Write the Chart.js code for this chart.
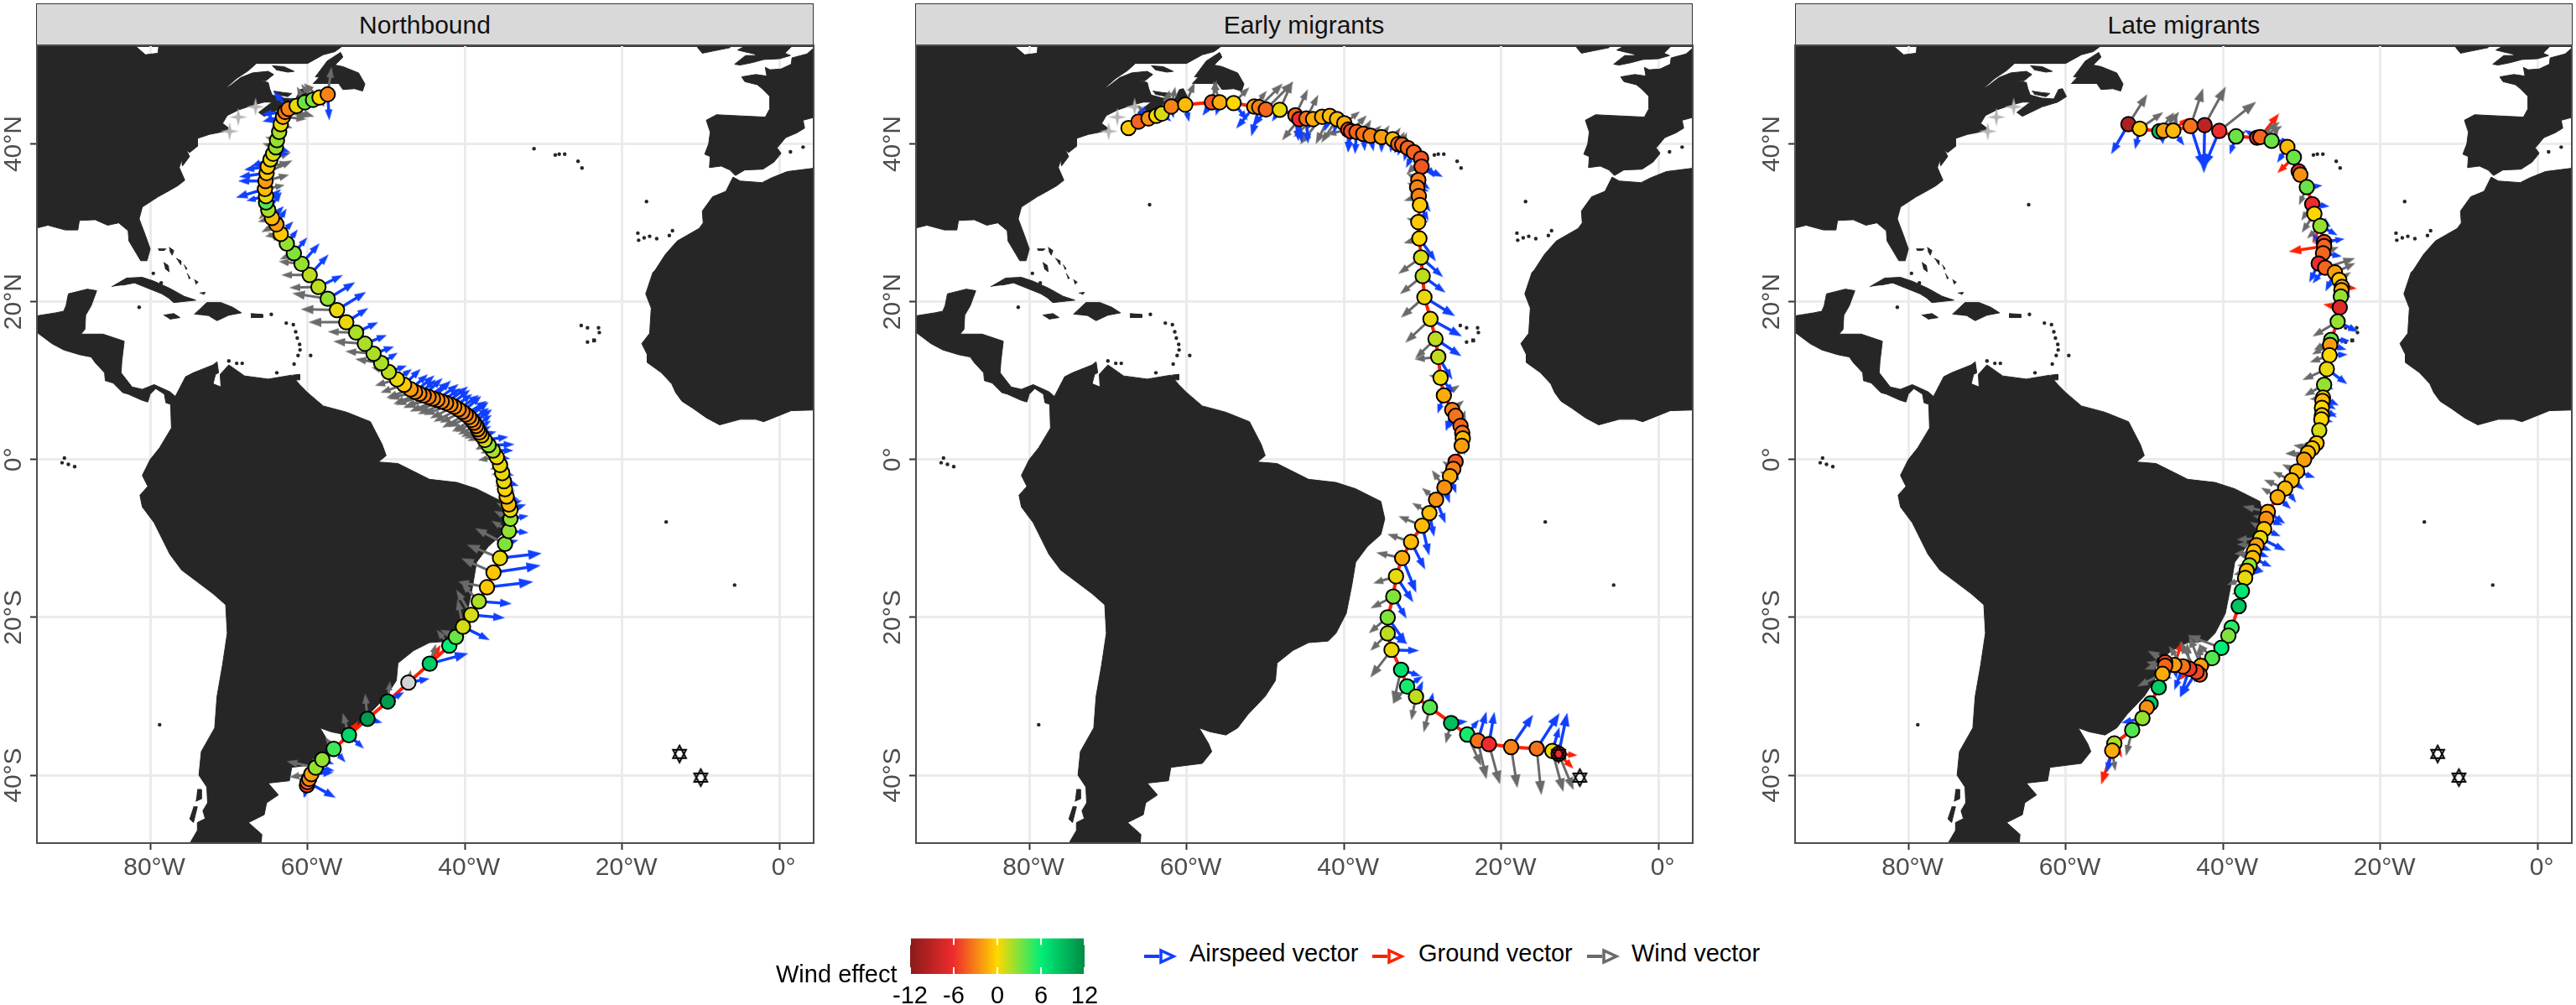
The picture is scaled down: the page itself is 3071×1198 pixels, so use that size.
<!DOCTYPE html>
<html>
<head>
<meta charset="utf-8">
<script src="https://cdn.jsdelivr.net/npm/chart.js@4"></script>
<style>
  html, body { margin: 0; background: #fff; width: 3071px; height: 1198px; overflow: hidden; font-family: "Liberation Sans", Arial, sans-serif; }
  canvas { position: absolute; }
  .strip { position: absolute; top: 4px; height: 49px; width: 925px; background: #d9d9d9; border: 1px solid #333; border-bottom-width: 2px; font-size: 30px; line-height: 49px; text-align: center; color: #111; }
  .lg { position: absolute; font-size: 29px; color: #000; white-space: nowrap; }
  svg { position: absolute; }
</style>
</head>
<body>
<div class="strip" style="left:43px">Northbound</div>
<div class="strip" style="left:1091px">Early migrants</div>
<div class="strip" style="left:2140px">Late migrants</div>
<canvas id="p1" width="973" height="1030" style="left:0px;top:50px"></canvas>
<canvas id="p2" width="973" height="1030" style="left:1048px;top:50px"></canvas>
<canvas id="p3" width="973" height="1030" style="left:2096px;top:50px"></canvas>
<canvas id="bar" width="262" height="88" style="left:1060px;top:1110px"></canvas>
<div class="lg" style="left:925px;top:1145px">Wind effect</div>
<svg style="left:1364px;top:1128px" width="40" height="24"><path d="M0 12H18" stroke="#1040ff" stroke-width="4"/><path d="M20 5L35 12L20 19Z" fill="#fff" stroke="#1040ff" stroke-width="3.5"/></svg>
<div class="lg" style="left:1418px;top:1120px">Airspeed vector</div>
<svg style="left:1636px;top:1128px" width="40" height="24"><path d="M0 12H18" stroke="#ff2000" stroke-width="4"/><path d="M20 5L35 12L20 19Z" fill="#fff" stroke="#ff2000" stroke-width="3.5"/></svg>
<div class="lg" style="left:1691px;top:1120px">Ground vector</div>
<svg style="left:1892px;top:1128px" width="40" height="24"><path d="M0 12H18" stroke="#6a6a6a" stroke-width="4"/><path d="M20 5L35 12L20 19Z" fill="#fff" stroke="#6a6a6a" stroke-width="3.5"/></svg>
<div class="lg" style="left:1945px;top:1120px">Wind vector</div>
<script>
// axis ticks
const lonTicks = [-80, -60, -40, -20, 0]
const latTicks = [-40, -20, 0, 20, 40]
const effectTicks = [-12, -6, 0, 6, 12]

// wind effect colour stops
const effectStops = ['#8b1a1a', '#ee2c2c', '#ffd700', '#00ee76', '#008b45']

// coast outlines, [lon, lat]
const americas = [[-100,53],[-82,53],[-82,52.5],[-80.6,51.3],[-79,51.5],[-78.9,52.5],[-78.5,53],[-55.7,53],[-55.7,52.3],[-56.5,51.7],[-58,51.3],[-60,50.2],[-64,50.2],[-66.5,50.2],[-67.5,49.3],[-69,48.3],[-70.5,47],[-69.8,47.4],[-68.5,48.4],[-67,49],[-65,49.2],[-64.3,48.8],[-65.3,48],[-66.3,48],[-65,47.8],[-64.8,47],[-64.5,46.2],[-63,45.8],[-61.5,45.7],[-60.9,46.9],[-60.4,47],[-59.9,46],[-61,45.3],[-63,44.7],[-65.5,43.5],[-66.2,44],[-64.5,45.3],[-65.5,45.3],[-67,44.9],[-68.8,44.3],[-70.2,43.6],[-70.8,42.6],[-70,42],[-70,41.7],[-71,41.5],[-72.5,41.2],[-74,40.7],[-74,39.7],[-75,38.9],[-75.4,39.3],[-75,38.4],[-75.9,37.2],[-76,38],[-76.3,37],[-75.6,35.4],[-76.5,34.7],[-77.9,33.9],[-79,33.3],[-81,32],[-81.4,30.5],[-80.6,28.4],[-80,26.7],[-80.4,25.2],[-81.2,25.2],[-81.8,26.2],[-82.7,27.7],[-82.8,29],[-84,30],[-85.4,29.7],[-87,30.4],[-89,30.3],[-89.2,29.1],[-90.8,29.1],[-93,29.7],[-95,29.2],[-100,29],[-100,20],[-94.5,18.2],[-92,18.6],[-91,18.8],[-90.7,19.5],[-90.4,21],[-88,21.6],[-86.8,21.4],[-87.5,19.5],[-88.2,18.3],[-88.3,16.5],[-88.8,15.9],[-86,15.9],[-83.3,15],[-83.6,12.5],[-83.7,11],[-82.3,9.2],[-81,8.9],[-79.5,9.5],[-77.5,8.6],[-76.8,8],[-75.5,10.5],[-74.5,11],[-72,12],[-71.5,12.4],[-71.3,11],[-71.7,10.8],[-72,9.6],[-71,9.2],[-71.1,10.8],[-70,12],[-68,10.6],[-65,10.2],[-62,10.7],[-61,9.5],[-60,8.5],[-58,6.8],[-55,6],[-52,4.8],[-50.5,1.9],[-50,0.5],[-51,-0.3],[-48.5,-0.5],[-44.5,-2.5],[-41,-2.9],[-38.5,-3.7],[-35.3,-5.3],[-34.8,-7.5],[-35.3,-9.5],[-37,-11],[-38.5,-13],[-39,-16],[-39.7,-19.5],[-41,-22],[-42,-23],[-44.5,-23.2],[-46.5,-24.2],[-48.5,-25.8],[-48.7,-28],[-50,-30],[-52.2,-32.3],[-53.5,-34],[-55,-34.9],[-57,-34.5],[-58.4,-34],[-57.2,-36],[-56.8,-37],[-58,-38.5],[-62,-39],[-62.3,-40.7],[-65,-41],[-63.7,-42.5],[-65.2,-43.5],[-65.5,-45],[-67.5,-46],[-65.8,-47.5],[-66,-50],[-76,-50],[-75,-48.7],[-74,-47],[-74,-46],[-73,-45.5],[-73.3,-44.5],[-72.7,-43.5],[-72.8,-41.5],[-73.8,-40],[-73.5,-37],[-71.8,-34],[-71.5,-30],[-70.8,-26],[-70.2,-22],[-70.4,-18.4],[-72,-17],[-76,-14],[-77.5,-12],[-79.5,-8],[-81,-6],[-81.3,-4.5],[-80.3,-3.4],[-81,-2],[-80,0],[-78.8,1.5],[-77.3,4],[-77.4,7],[-78,7.2],[-78.2,8.3],[-79.3,9],[-80,8.3],[-80.3,7.3],[-81,7.5],[-82.8,8.3],[-83.5,8.5],[-84.7,9.7],[-85.7,10],[-85.8,11],[-87,12.3],[-87.5,13],[-89,13.3],[-91,13.9],[-92.5,14.7],[-94.5,16.2],[-100,16.5]]
const africa = [[5,37],[1,36.5],[-1,35.7],[-2.2,35.1],[-5,35.3],[-5.9,35.8],[-6.8,34],[-8.5,33.3],[-9.8,31.5],[-9.7,30],[-10.2,29.3],[-13,27.7],[-14.5,26],[-15.8,24],[-16.1,23.7],[-17,21],[-16.3,19.2],[-16.5,16],[-17.5,14.7],[-16.8,13.3],[-16.8,12.3],[-15,11],[-13.7,9.6],[-13.2,8.5],[-12.4,7.4],[-11,6.5],[-9.3,5.3],[-7.6,4.4],[-5,5.1],[-3,5.1],[-2,4.8],[0,5.6],[1.5,6.2],[5,6.3]]
const europe = [[5,53],[4.6,52.5],[4.3,52.1],[3.5,51.4],[1.6,50.9],[1.5,50.1],[0.2,49.5],[-1.2,49.4],[-1.8,49.7],[-1.6,48.6],[-3,48.8],[-4.8,48.5],[-4.4,47.9],[-2.8,47.5],[-2.2,47],[-1.2,46],[-1.2,44.5],[-1.8,43.4],[-3.8,43.5],[-6,43.6],[-8,43.7],[-9.3,43],[-8.8,41.5],[-9,40],[-9.5,38.7],[-8.8,38.4],[-8.9,37],[-7.4,37.2],[-6.3,36.7],[-5.6,36],[-4.4,36.7],[-2.1,36.8],[-0.7,37.7],[0.2,38.8],[-0.3,39.5],[0.8,40.8],[2.2,41.4],[3.2,42],[3,43],[4.5,43.4],[5,43.3]]
const britain = [[-4.2,53],[-4.2,52.5],[-5.3,51.9],[-4.5,51.7],[-3.2,51.4],[-3,51.2],[-4.3,51.2],[-5.7,50.1],[-5,50],[-3.5,50.3],[-2,50.7],[0,50.8],[1.4,51.2],[0.7,51.5],[1.7,52.5],[1.7,53]]
const ireland = [[-10.2,53],[-10.4,52.2],[-9.8,51.5],[-8.3,51.8],[-6.3,52.2],[-6.1,53]]
const newfoundland = [[-59.3,47.6],[-58.5,48.5],[-59,48.5],[-57.5,50.5],[-55.8,51.6],[-55.5,51],[-56.5,50],[-55.5,49.8],[-53.5,49],[-52.7,47.6],[-53,46.7],[-54,47],[-55.5,46.9],[-56,47.6]]
const anticosti = [[-64.5,49.9],[-63,49.8],[-61.7,49.2],[-62.5,49.1],[-64,49.4]]
const princeEdward = [[-64.3,46.7],[-63,46.5],[-62,46.4],[-62.5,46],[-64,46.3]]
const cuba = [[-84.9,21.9],[-83,23],[-81,23.1],[-79.5,22.6],[-77.5,21.7],[-75.7,20.7],[-74.2,20.2],[-77,19.9],[-77.7,20.5],[-78.5,21],[-80.5,21.8],[-82,22.4],[-83.5,22.1]]
const hispaniola = [[-74.4,18.4],[-72.8,19.9],[-71,19.9],[-69.5,19.3],[-68.4,18.6],[-70,18.3],[-71.5,17.6],[-72.5,18.2]]
const jamaica = [[-78.3,18.3],[-77,18.5],[-76.2,18],[-77.5,17.8]]
const puertoRico = [[-67.2,18.5],[-65.7,18.4],[-65.7,18],[-67.2,18]]
const andros = [[-78.3,25],[-77.7,24.6],[-77.6,23.8],[-78.1,24.2]]
const abaco = [[-77.6,26.9],[-77,26.5],[-77.2,25.9],[-77.5,26.4]]
const grandBahama = [[-79,26.7],[-78,26.7],[-78.2,26.5],[-78.9,26.5]]
const eleuthera = [[-76.7,25.5],[-76.1,25.2],[-76.1,24.7],[-76.4,25.1]]
const catIsland = [[-75.7,24.7],[-75.3,24.2],[-75.5,24.1]]
const longIsland = [[-75.3,23.6],[-74.9,23],[-75.1,22.9]]
const acklins = [[-74.4,22.8],[-73.9,22.5],[-74.2,22.2]]
const inagua = [[-73.7,21.1],[-73,21.2],[-73.2,20.9]]
const trinidad = [[-61.9,10.7],[-61,10.8],[-61,10.1],[-61.9,10.1]]
const capeVerde = [[-23.8,15.3],[-23.4,15.3],[-23.4,14.9],[-23.8,14.9]]
const chiloe = [[-74,-41.8],[-73.5,-41.8],[-73.5,-43],[-74.2,-43.3]]
const chonos = [[-74.5,-44],[-74,-44],[-74.5,-46],[-75,-45.5]]
const landShapes = [americas, africa, europe, britain, ireland, newfoundland, anticosti, princeEdward, cuba, hispaniola, jamaica, puertoRico, andros, abaco, grandBahama, eleuthera, catIsland, longIsland, acklins, inagua, trinidad, capeVerde, chiloe, chonos]

// small islands shown as dots
const islandDots = [[-31.2,39.4],[-28.5,38.6],[-28,38.7],[-27.3,38.7],[-25.6,37.8],[-25.1,36.95],[-16.9,32.7],[-18,28.7],[-17.9,27.8],[-17.2,28.1],[-16.5,28.3],[-15.6,28],[-14,28.4],[-13.6,29],[-25.2,17],[-24.4,16.7],[-23,16.7],[-22.9,16.1],[-24.4,14.9],[-64.7,32.3],[-64.6,18.4],[-62.7,17.3],[-61.8,17.1],[-61.5,16.2],[-61.3,15.4],[-61,14.6],[-60.95,13.9],[-59.6,13.2],[-61.2,13.2],[-61.7,12.1],[-69,12.2],[-68.3,12.2],[-70,12.5],[-63.9,11],[-91.2,-0.4],[-90.4,-0.6],[-89.6,-0.9],[-90.9,0.2],[-14.4,-7.9],[-5.7,-15.9],[-78.8,-33.6],[3,39.6],[1.4,39],[-81.4,19.3],[-78.6,22.4],[-79.6,23.6]]

const coastStars = [[-66.6,44.7],[-68.8,43.4],[-69.9,41.6]]
const colonyStars = [[-12.7,-37.3],[-10,-40.3]]

// lon, lat, wind effect, airspeed dlon, dlat, wind dlon, dlat
const northRows = [
[-57.43,46.28,-3,0.2,-3.3,0.5,3.5],[-58.47,45.88,0,0.6,-1.2,-2,1.8],[-59.3,45.59,3,-0.5,-0.8,-1.5,2],[-60.34,45.27,3.5,-1,-0.4,-1,2],[-61.38,44.82,0.5,-1,1,0.5,1.5],[-62.42,44.45,-3,-1.9,2.2,3.3,-1],[-62.84,44.05,-3.5,-3,-0.3,3,-0.6],[-63.12,43.44,-1.5,-2.6,-0.6,3,-0.3],[-63.4,42.5,0.5,-1.7,1,1.5,-0.5],[-63.6,41.52,2,-1,0.2,-1,0.8],[-63.88,40.47,2.5,-0.7,-0.3,-1.5,0.4],[-64.02,39.57,2.5,1.8,-0.6,-1.7,0.5],[-64.37,38.76,1,2,0,-1,-0.2],[-64.71,38.03,0.5,-2.5,-0.9,2.6,0.9],[-65.06,37.13,-0.5,-3,-0.4,2.8,0.5],[-65.2,36.32,-0.5,-3.5,-0.5,3.3,1.6],[-65.34,35.3,-2,-3.5,0,3,0.8],[-65.41,34.29,-1,-3.7,-1.1,2.5,0.5],[-65.27,33.39,0.5,-2.5,-0.6,2,0.3],[-65.27,32.58,4,1.9,1.7,-0.9,-0.6],[-64.99,31.64,2,1.7,2.3,-1.2,-1.2],[-64.51,30.62,-1,1.5,1.5,-1.8,-0.5],[-63.95,29.81,-2,1.3,2,-1.9,-1],[-63.4,28.59,-0.5,1.6,1.6,-2,-0.3],[-62.63,27.37,2.5,1.4,1.8,-2.4,1.4],[-61.73,26.15,3,1.7,2,-1.8,-0.8],[-60.76,24.81,2.5,2.3,2.6,-2.9,0.3],[-59.72,23.39,1.5,2.4,2.6,-3.6,0],[-58.61,21.88,1.5,3.1,1.5,-3.7,-0.1],[-57.43,20.38,2.5,3.5,2.1,-4.5,0.7],[-56.25,18.95,0.5,3.7,2.3,-4.6,0.1],[-55.07,17.41,0.5,2.8,1.8,-4.8,0],[-53.82,16.1,2,2.8,1.3,-3.6,0.1],[-52.71,14.68,2,2.8,1.1,-4,0.3],[-51.6,13.42,2,2.6,0.9,-3.6,0.3],[-50.63,12.24,2,2.1,1.3,-3.3,0.5],[-49.66,11.1,1.5,2.3,0.8,-2.2,0.6],[-48.62,10.17,0.5,1.9,1.3,-2.8,-0.8],[-47.72,9.48,-0.5,2.1,2,-3,-1],
[-46.89,8.91,-2,2.2,1.9,-3.1,-1.1],[-46.33,8.58,-2.5,2.5,2.1,-3.4,-0.9],[-45.78,8.34,-2.5,2.1,1.8,-3.3,-1.3],[-45.22,8.13,-3,2.4,2.2,-3.6,-1.2],[-44.6,7.93,-3,2.6,1.9,-3.2,-1.4],[-44.05,7.73,-2.5,2.3,2.3,-3.7,-1.1],[-43.49,7.57,-2.5,2.7,2,-3.5,-1.5],[-42.94,7.36,-2.5,2.4,1.7,-3.3,-1.2],[-42.38,7.16,-3,2.8,2.1,-3.6,-1.4],[-41.83,6.95,-2.5,2.5,1.9,-3.4,-1.3],[-41.34,6.71,-2.5,2.3,1.6,-3.1,-1.5],[-40.79,6.38,-2.5,2.6,1.8,-3.2,-1.6],[-40.3,6.06,-3,2.4,2,-2.9,-1.4],[-39.88,5.73,-3,2.7,1.7,-3,-1.7],[-39.47,5.41,-2.5,2.5,1.9,-2.7,-1.3],[-39.12,5.04,-2.5,2.2,1.5,-2.5,-1.5],[-38.84,4.68,-2.5,2.3,1.7,-2.4,-1.2],[-38.57,4.27,-2.5,2,1.4,-2.3,-1.1],[-38.36,3.86,-2,1.7,1.1,-2.1,-1],[-38.15,3.46,-1.5,1.5,0.8,-1.9,-0.8],[-37.87,3.05,-1,1.9,0.5,-1.8,-0.7],[-37.46,2.48,1,3,0.4,-1,-1.3],[-36.97,1.83,2.5,3.3,0.1,-1.7,-0.5],[-36.42,1.14,2,2.6,0,-1.6,-0.3],[-35.93,0.32,0.5,1.7,-0.2,-2.4,-0.4],[-35.52,-0.69,0.5,1.2,-0.4,-1.3,-0.6],[-35.24,-1.71,0.5,1.5,-0.3,-1.4,-0.2],[-35.03,-2.73,0.5,1.9,-0.6,-1,0.4],[-34.89,-3.74,0,1.3,-0.3,-1.3,0.5],[-34.68,-4.68,-0.5,1.6,-0.4,-1.2,0.7],
[-34.4,-5.68,-1,1.7,0.5,-1.4,0.8],[-34.2,-6.37,0.5,2,0.7,-1.8,0.9],[-34.2,-7.51,2.5,2.3,0.4,-2.1,1],[-34.4,-9.06,2.5,2.5,-0.2,-2.2,1.3],[-34.89,-10.69,3,1.7,0.5,-3.8,2],[-35.52,-12.48,0.5,5.3,0.6,-4.2,1.7],[-36.35,-14.31,-0.5,6,0.9,-4.1,1.8],[-37.18,-16.18,-0.5,5.9,0.7,-3.7,0.7],[-38.22,-17.97,2,4.2,-0.3,-2.2,2.3],[-39.19,-19.67,1,4.3,-0.4,-1.9,3.2],[-40.23,-21.18,1,3.4,-1.7,-0.7,3.5],[-41.13,-22.48,3.5,1,-0.5,-2,0.9],[-41.97,-23.58,6,1.1,0.2,-1.6,2],[-44.46,-25.86,8,4.9,1.3,0.8,2.5],[-47.17,-28.26,null,2.7,0.5,0.3,1.6],[-49.8,-30.66,11,2.1,1.2,0.3,2.6],[-52.37,-32.85,11,1.9,-0.5,-0.3,3.2],[-54.73,-34.92,7.5,1.9,-1.7,-0.8,2.8],[-56.67,-36.67,4.5,1.5,-1.7,-1.1,1.5],[-58.12,-38.02,2.5,1.5,-0.6,-1.4,0],[-58.96,-39.03,2.5,2.4,-0.4,-3.7,0.8],[-59.51,-39.85,-2,2.8,0.2,-2.8,-0.4],[-59.79,-40.46,-3,-0.7,-2.4,0.8,1.2],[-60,-40.86,-4,3.6,-2,-0.6,0.7],[-60.07,-41.27,-5,-0.3,-1.6,0.5,0.8]]

const earlyRows = [
[-67.38,42.01,-0.5,0.3,-0.3,-1,0.3],[-66.11,42.83,-4,0.8,2,-0.8,-0.3],[-64.84,43.23,-2.5,1,-0.6,-1.4,1.7],[-63.85,43.56,0,0.5,-0.7,2,2.8],[-63.14,43.84,1,1.2,-1,1,3],[-61.94,44.74,-3,0.3,-1.5,0.5,2.5],[-60.17,44.98,-1,0.5,-2.2,1.2,2.8],[-56.78,45.27,-4.5,-1.2,-1.7,0.6,2.8],[-55.79,45.27,-1.5,-0.5,-1.7,-0.8,2.7],[-54.02,45.18,0,1.8,-2.2,2,2],[-51.4,44.74,-2,-2.3,-2.8,1.6,2],[-50.77,44.66,-3,-1,-3.7,3,3],[-49.92,44.37,-4,-1.4,-2,3.5,3.5],[-48.15,44.33,0.5,-1,-1.5,1.6,3.6],[-46.17,43.64,-4,0.4,-3.3,1.6,3.3],[-45.67,43.15,-6,0.3,-3,-2.2,-2.7],[-44.76,43.23,-3.5,0.2,-3.2,1.5,3],[-43.91,43.15,-1.5,-1,-1.5,-2.5,-2.3],[-42.77,43.44,-1.5,0.5,1,-2.8,-3.5],[-41.79,43.56,-1,-0.7,-2,-1.8,-3.6],[-40.87,43.15,-1,-0.4,-1.8,-2,-3],[-39.95,42.62,-1.5,0.5,-2,2,1.5],[-39.45,41.81,-5,0,-2.8,-2.8,-0.6],[-39.1,41.61,-5,-0.4,-2.7,2,2],[-38.39,41.52,-4,-0.2,-2.8,-1,-0.5],[-37.54,41.28,-3.5,0.2,-2.2,1,1.8],[-36.62,41.04,-3,0.4,-2,1.4,1.3],[-35.21,40.87,-2,0,-2,1,1.5],[-33.79,40.59,-1,-0.3,-1.7,1,1.5],[-33.09,39.98,-4,-0.5,-1.2,0.8,1.6],[-32.59,39.9,-4,-0.6,-1.4,0.6,1.6],[-31.88,39.49,-4,-0.5,-1.7,0.5,0.8],[-31.11,38.96,-4,-1,-2,0.4,0.6],[-30.19,38.15,-4.5,1.7,-2.4,-1.8,-2],[-30.12,37.13,-4.5,2.7,-1.3,-1.5,-0.6],[-30.54,35.42,-3,1.5,-1.2,-1.5,0.9],[-30.68,34.49,-3,1.5,-0.5,-1.3,0.6],[-30.47,33.39,-3,1.5,-2,-1.9,-0.6],[-30.33,32.25,-0.5,1.1,-2,-1.3,1.6],[-30.54,30.1,-0.5,1.3,0.1,-1.5,0.5],[-30.4,28.02,0,2.1,-2.9,-2,-0.6],[-30.19,25.62,1,2.8,-2.5,-2.9,-2.1],[-29.98,23.26,1.5,2.9,-2.1,-2.9,-2.3],[-29.76,20.58,0.5,3.9,-2.4,-3,-2.6],[-28.99,17.81,0.5,4,-2.2,-3.2,-3],[-28.35,15.29,1.5,3.3,-2.2,-2.6,-2.5],[-28,13.01,1.5,1.8,-2.9,-3,-0.3],[-27.71,10.37,0.5,1.7,-1.9,-1.5,0.3],[-27.29,8.13,-1.5,-0.8,-2.3,2,1.3],[-26.23,6.3,-3,-0.8,-2.7,1.5,1.2],[-25.8,5.53,-3.5,-0.9,-1.6,0.8,-1.3],[-25.17,4.27,-4,0.9,-2.9,0.6,2],[-24.95,3.38,-3.5,0.6,-1.5,-0.7,1],[-24.88,2.68,-1,0.3,-1.2,-0.5,0.6],[-25.02,1.75,-2,0.4,-1.2,-0.6,0.7],[-25.8,-0.28,-4.5,0.8,-0.4,-1,0.6],[-26.09,-1.18,-3,0.7,-1.5,-1.4,1],[-26.51,-2.11,-1.5,0.8,-2.2,-1.3,0.6],[-27.22,-3.54,-2.5,0.7,-2,-1.6,2.2],[-28.28,-5.08,-2.5,1.2,-3,-1.8,1.5],
[-29.13,-6.78,-1,0.6,-3,-2.2,1.3],[-30.05,-8.37,-1,0.9,-3.8,-3,1.2],[-31.46,-10.44,-1,1.8,-3.5,-3,1],[-32.59,-12.48,-1.5,1.8,-4.4,-3.3,0.7],[-33.37,-14.79,0.5,2.2,-3.3,-2.9,-0.9],[-33.72,-17.36,3,1.7,-2.8,-2.9,-1.5],[-34.43,-20,3,2.4,-3.4,-2.4,-2],[-34.43,-22.03,1.5,2.5,-1.3,-2.2,-2.2],[-33.94,-24.11,0.5,3.5,-0.1,-2.7,-3.5],[-32.73,-26.63,7,2.5,-0.8,-1,-4.3],[-31.96,-28.74,5.5,2,1.3,-1.8,-2.2],[-30.83,-30.04,1.5,0.9,2,-0.6,-3],[-29.06,-31.39,4,0.4,1.9,-0.8,-3.2],[-26.37,-33.38,9,2.1,0.2,-0.7,-2.6],[-24.32,-34.84,5.5,1.5,1.9,1.8,-4],[-22.97,-35.62,-3.5,1.1,3.7,1.1,-4.9],[-21.56,-36.06,-6,0.7,4.1,1.4,-5.1],[-18.74,-36.43,-3,2.8,4.1,0.8,-5.2],[-15.48,-36.63,-3.5,2.9,4.5,0.6,-5.9],[-13.5,-36.92,0.5,0.9,3,1.4,-5.2],[-12.7,-37.28,-6,1.1,5.2,1.9,-4.6]]

const lateRows = [
[-52.02,42.5,-10,-2.2,-3.8,2.4,3.8],[-50.58,41.93,-0.5,-0.6,-2.6,3,2.1],[-48.1,41.6,9,0.5,-1.6,1.9,2.4],[-47.55,41.69,-2,-0.1,-1.7,2,2.4],[-46.32,41.69,-1,1.4,-1.9,0.5,1.8],[-44.12,42.26,-3.5,1.7,-5.3,1.6,4.8],[-42.33,42.38,-9,-0.1,-6.1,2.7,4.9],[-40.47,41.65,-6,-1.9,-4.5,4.7,3.7],[-38.34,40.96,3.5,-0.8,-2.3,1.4,0.7],[-35.66,40.79,-6,-1.6,1,2.9,2],[-35.25,40.87,-4,-0.5,0.9,2.8,1.4],[-33.81,40.39,3.5,2.4,0,0.9,1.6],[-31.81,39.61,-1,-1.3,-2,-0.4,0.6],[-30.99,38.31,3.5,-0.5,-1,-0.4,0.5],[-30.37,36.52,-7,-0.2,1,-0.5,0.4],[-30.16,36.1,-2.5,0.5,1.2,-0.6,-0.5],[-29.34,34.53,3.5,2,0.2,-1,-2.3],[-28.65,32.37,-6,2.2,-0.3,-1.4,-2.1],[-28.38,31.15,0,2.1,-1.7,-1.6,-2.4],[-27.62,29.61,2.5,2.2,-1.2,-1.7,-1.6],[-27.14,27.57,-5,2.6,0.4,-1.5,0.2],[-27.14,27.05,-4,-1.5,1.5,-1.4,0.5],[-27.28,26.15,-4,2.4,-0.4,2,0.8],[-27.83,24.85,-6,-1.2,-2.4,1.2,0.8],[-27,24.32,-4,-1.6,-2,3.8,1.2],[-25.77,23.71,-2,-1.2,-2.4,2.6,1.2],[-25.22,22.77,-0.5,1.4,-2.3,1.5,1],[-24.87,21.88,-1.5,0.7,-1.2,0.5,0.8],[-24.94,21.47,-1.5,0.5,-1,0.6,0.8],[-25.01,20.66,2.5,0.4,-0.9,-0.5,0.6],[-25.15,19.28,-7,0.8,-0.5,-0.7,0.3],[-25.42,17.49,2.5,2.6,-1.3,-3.2,-1.9],[-26.25,15.17,3.5,2.4,-0.1,-2.2,-1.3],[-26.38,14.52,-2,2.1,-0.6,-2.3,-1.2],[-26.45,13.22,0,2.3,0.1,-2.5,-0.9],[-26.8,11.47,0.5,2.6,-1.9,-3.1,-1.4],[-27.14,9.48,2.5,1.2,-0.6,-2.5,-1.4],[-27.28,7.85,-0.5,2,-1,-1.7,-0.2],[-27.35,7.44,-1,1.7,-1.1,-1.2,0.2],[-27.42,6.55,0,1.9,-1.2,-1,0.4],[-27.42,5.61,-0.5,1.9,0.2,-1,0.3],[-27.49,5.08,0,1.5,-0.3,-0.8,0.4],[-27.76,3.7,1,0.9,-0.4,-0.9,0.3],[-28.1,2.07,-0.5,0.6,-0.2,-2.3,-0.5],[-28.65,1.42,-0.5,0.5,-0.3,-2.4,0.4],[-29.2,0.85,-1,0.4,-0.2,-2.9,-0.1],[-29.68,0,-2,0.7,-0.7,-1.4,0.7],[-30.58,-1.5,-1,2.3,-0.8,-1.9,0.9],[-31.26,-2.64,-1,1.6,-1.2,-2.4,1.1],[-32.09,-3.66,-1,1.4,-1.8,-2.7,1.1],[-33.05,-4.76,-1.5,1.7,-1.5,-2.1,1.2],
[-34.29,-6.62,-1.5,2.2,-1.5,-3.2,0.7],[-34.5,-7.51,-2.5,2.1,-0.8,-1.7,0.4],[-34.77,-8.82,-0.5,2.1,-0.9,-1.8,0.9],[-35.25,-9.95,0.5,3.2,-1.6,-3,-0.2],[-35.73,-10.85,-2,1.9,-0.7,-2.5,0.1],[-36.07,-11.66,-1,1.9,-0.7,-2.5,-0.3],[-36.21,-12.48,-1,2.4,-1.1,-1.9,0.5],[-36.62,-13.41,2.5,1.8,-0.8,-1.6,0],[-36.97,-14.1,-1,2.1,-0.1,-1.7,-0.5],[-37.18,-15,0.5,0.8,-0.4,-2.3,-0.9],[-37.59,-16.66,6.5,0.5,-0.5,-1.3,-0.4],[-38,-18.58,8.5,0.3,-0.4,-0.6,-0.9],[-38.9,-21.3,5,0.4,-0.5,-0.4,0.6],[-39.31,-22.32,3,0.5,-0.3,-0.5,0.6],[-40.2,-23.86,6,0.9,0.4,-4.3,1.6],[-41.37,-25.16,4,1,0.5,-1.7,1.8],[-42.81,-26.14,-2,-0.4,-1.3,-1.5,3.8],[-42.95,-27.24,-4,-0.8,-1,0,3.9],[-43.36,-26.91,-5,-2.1,-3.2,-2.1,3.9],[-44.26,-26.51,-5.5,-1.2,-3.6,-0.3,3.3],[-45.08,-26.22,-3.5,-1.1,-3,-1.8,2.6],[-46.18,-26.02,-2,0.3,-1.8,-3.4,1.8],[-47.35,-25.69,-5,0.8,-1.5,-2.6,-0.9],[-47.35,-26.14,-4,1.5,-0.2,-2.4,0.5],[-47.69,-27.16,-1.5,1.2,-0.6,-3.2,-1.6],[-48.17,-28.87,8,-0.4,-1,0.4,0.6],[-49.2,-30.9,8,-0.3,-0.8,0.4,0.5],[-49.68,-31.43,-2.5,-0.2,-0.6,0.3,0.4],[-50.23,-32.77,2.5,-2.7,-0.6,1,-0.3],[-51.54,-34.27,4,-0.4,-0.6,-0.8,-3.3],[-53.81,-35.98,2,-0.4,-0.5,0.5,-0.8],[-54.08,-36.88,-1.5,-0.7,-2.8,0.4,-2.6]]

// ground vectors that show past the points: lon, lat, dlon, dlat
const northGround = [[-44.46,-25.86,1.4,2.4],[-54.73,-34.92,1.2,1.8]]
const earlyGround = [[-12.7,-37.28,2.4,-0.2],[-12.7,-37.28,1.9,-1.9],[-30.83,-30.04,-0.9,1.7],[-66.11,42.83,1,1.5]]
const lateGround = [[-35.25,40.87,2.4,3],[-31.81,39.61,-1,-1.5],[-30.99,38.31,-2.1,-2],[-27.14,27.05,-4.5,-0.7],[-27.62,29.61,-1,-2.2],[-24.87,21.88,1.9,-0.2],[-25.15,19.28,-2.1,0.4],[-46.32,41.69,1.9,1.6],[-54.08,-36.88,-1.4,-4.3],[-53.81,-35.98,1,-1.8],[-41.37,-25.16,-1,-1.6],[-44.26,-26.51,-1.4,-1.5],[-46.18,-26.02,1,3]]

const landColor = '#262626'
const airColor = '#1040ff'
const groundColor = '#ff2000'
const windColor = '#6a6a6a'
const pxPerDeg = 9.4

function effectColor(v) {
  if (v === null) return '#d3d3d3'
  const p = Math.min(3.999, (v + 12) / 6), i = Math.floor(p), t = p - i
  const hex = s => [1, 3, 5].map(k => parseInt(s.substr(k, 2), 16))
  const a = hex(effectStops[i]), b = hex(effectStops[i + 1])
  return 'rgb(' + a.map((c, k) => Math.round(c + (b[k] - c) * t)).join(',') + ')'
}

function markerCanvas(w, h, draw) {
  const c = document.createElement('canvas')
  c.width = w
  c.height = h
  draw(c.getContext('2d'), w, h)
  return c
}

const greyStar = markerCanvas(22, 22, (g, w, h) => {
  g.fillStyle = '#b5b5b5'
  g.beginPath()
  for (let i = 0; i < 8; i++) {
    const r = i % 2 ? 3 : w / 2, a = i * Math.PI / 4
    g.lineTo(w / 2 + r * Math.sin(a), h / 2 - r * Math.cos(a))
  }
  g.fill()
})

const blackStar = markerCanvas(24, 24, (g, w, h) => {
  g.strokeStyle = '#000'
  g.lineWidth = 2
  for (const off of [0, Math.PI]) {
    g.beginPath()
    for (let i = 0; i < 3; i++) {
      const a = off + i * 2 * Math.PI / 3
      g.lineTo(w / 2 + 9 * Math.sin(a), h / 2 - 10 * Math.cos(a))
    }
    g.closePath()
    g.stroke()
  }
})

// arrow heads are long and narrow, one canvas per colour and length
const headCache = {}
function headCanvas(color, length) {
  const key = color + length
  if (!headCache[key]) {
    const width = Math.round(length * 0.72)
    headCache[key] = markerCanvas(width, length, (g, w, h) => {
      g.fillStyle = color
      g.beginPath()
      g.moveTo(w / 2, 0)
      g.lineTo(w, h)
      g.lineTo(0, h)
      g.fill()
    })
  }
  return headCache[key]
}

// shaft line plus a rotated head at the tip, taken from [x, y, dx, dy] vectors
function arrows(vectors, color, order, width) {
  const shaft = [], heads = [], styles = [], rotation = []
  for (const [x, y, dx, dy] of vectors) {
    const len = Math.hypot(dx, dy)
    if (!len) continue
    const size = Math.max(8, Math.min(18, Math.round(7 + len * 1.7)))
    const back = size / 2 / pxPerDeg / len
    const hx = x + dx * (1 - back), hy = y + dy * (1 - back)
    shaft.push({x: x, y: y}, {x: hx, y: hy}, {x: NaN, y: NaN})
    heads.push({x: hx, y: hy})
    styles.push(headCanvas(color, size))
    rotation.push(Math.atan2(dx, dy) * 180 / Math.PI)
  }
  return [
    {type: 'line', data: shaft, borderColor: color, borderWidth: width, pointRadius: 0, order: order, spanGaps: false},
    {type: 'scatter', data: heads, pointStyle: styles, pointRadius: 5, pointRotation: rotation, order: order}
  ]
}

function panelDatasets(rows, ground) {
  const xy = p => ({x: p[0], y: p[1]})
  const land = landShapes.map(shape => ({
    type: 'line', data: shape.map(xy), fill: 'shape', backgroundColor: landColor,
    borderColor: landColor, borderWidth: 1, pointRadius: 0, tension: 0, order: 30
  }))
  return [
    ...land,
    {type: 'scatter', data: islandDots.map(xy), pointRadius: 2.2, backgroundColor: landColor, borderWidth: 0, order: 29},
    {type: 'scatter', data: coastStars.map(xy), pointStyle: greyStar, order: 28},
    {type: 'line', data: rows.map(xy), borderColor: groundColor, borderWidth: 4, pointRadius: 0, tension: 0, order: 20},
    ...arrows(ground, groundColor, 19, 3.5),
    ...arrows(rows.map(r => [r[0], r[1], r[5], r[6]]), windColor, 18, 3),
    ...arrows(rows.map(r => [r[0], r[1], r[3], r[4]]), airColor, 17, 3.5),
    {type: 'scatter', data: rows.map(xy), pointRadius: 8.7, borderWidth: 2, borderColor: '#000',
      backgroundColor: rows.map(r => effectColor(r[2])), order: 2},
    {type: 'scatter', data: colonyStars.map(xy), pointStyle: blackStar, order: 1}
  ]
}

const panelFrame = {
  id: 'panelFrame',
  afterDatasetsDraw(chart) {
    const a = chart.chartArea, g = chart.ctx
    g.save()
    g.strokeStyle = '#4d4d4d'
    g.lineWidth = 2
    g.strokeRect(a.left, a.top, a.right - a.left, a.bottom - a.top)
    g.restore()
  }
}

function drawPanel(id, rows, ground) {
  const tickFont = {family: '"Liberation Sans"', size: 30}
  new Chart(document.getElementById(id), {
    type: 'scatter',
    data: {datasets: panelDatasets(rows, ground)},
    plugins: [panelFrame],
    options: {
      responsive: false,
      devicePixelRatio: 1,
      animation: false,
      events: [],
      layout: {autoPadding: false, padding: {top: 4, right: 3, left: 0, bottom: 0}},
      plugins: {legend: {display: false}, tooltip: {enabled: false}},
      scales: {
        x: {
          type: 'linear', min: -94.4, max: 4.35,
          afterBuildTicks: s => { s.ticks = lonTicks.map(v => ({value: v})) },
          afterFit: s => { s.height = 75 },
          border: {display: false},
          grid: {color: '#ebebeb', lineWidth: 3, tickColor: '#333', tickLength: 8, tickWidth: 2},
          ticks: {font: tickFont, color: '#4d4d4d', padding: 4, maxRotation: 0, autoSkip: false, labelOffset: 5,
            callback: v => v === 0 ? '0°' : Math.abs(v) + '°W'}
        },
        y: {
          type: 'linear', min: -48.6, max: 52.5,
          afterBuildTicks: s => { s.ticks = latTicks.map(v => ({value: v})) },
          afterFit: s => { s.width = 44 },
          border: {display: false},
          grid: {color: '#ebebeb', lineWidth: 3, tickColor: '#333', tickLength: 8, tickWidth: 2},
          ticks: {font: tickFont, color: '#4d4d4d', minRotation: 90, maxRotation: 90, crossAlign: 'center', padding: -14, autoSkip: false,
            callback: v => v === 0 ? '0°' : Math.abs(v) + (v > 0 ? '°N' : '°S')}
        }
      }
    }
  })
}

drawPanel('p1', northRows.slice().reverse(), northGround)
drawPanel('p2', earlyRows, earlyGround)
drawPanel('p3', lateRows, lateGround)

// colour bar
const barTicks = {
  id: 'barTicks',
  afterDatasetsDraw(chart) {
    const a = chart.chartArea, g = chart.ctx, x = chart.scales.x
    g.save()
    g.strokeStyle = '#fff'
    g.lineWidth = 2
    for (const v of effectTicks) {
      const px = x.getPixelForValue(v)
      g.beginPath()
      g.moveTo(px, a.top); g.lineTo(px, a.top + 8)
      g.moveTo(px, a.bottom - 8); g.lineTo(px, a.bottom)
      g.stroke()
    }
    g.restore()
  }
}

new Chart(document.getElementById('bar'), {
  type: 'bar',
  data: {
    labels: ['Wind effect'],
    datasets: [{
      data: [[effectTicks[0], effectTicks[4]]],
      barPercentage: 1,
      categoryPercentage: 1,
      backgroundColor(ctx) {
        const a = ctx.chart.chartArea
        if (!a) return effectStops[2]
        const fill = ctx.chart.ctx.createLinearGradient(a.left, 0, a.right, 0)
        effectStops.forEach((c, i) => fill.addColorStop(i / 4, c))
        return fill
      }
    }]
  },
  plugins: [barTicks],
  options: {
    indexAxis: 'y',
    responsive: false,
    devicePixelRatio: 1,
    animation: false,
    events: [],
    layout: {autoPadding: false, padding: {left: 25, right: 29, top: 8.5, bottom: 0}},
    plugins: {legend: {display: false}, tooltip: {enabled: false}},
    scales: {
      y: {display: false},
      x: {
        type: 'linear', min: -12, max: 12,
        afterBuildTicks: s => { s.ticks = effectTicks.map(v => ({value: v})) },
        afterFit: s => { s.height = 37 },
        border: {display: false},
        grid: {display: false},
        ticks: {font: {family: '"Liberation Sans"', size: 29}, color: '#000', padding: 2, maxRotation: 0, autoSkip: false}
      }
    }
  }
})
</script>
</body>
</html>
